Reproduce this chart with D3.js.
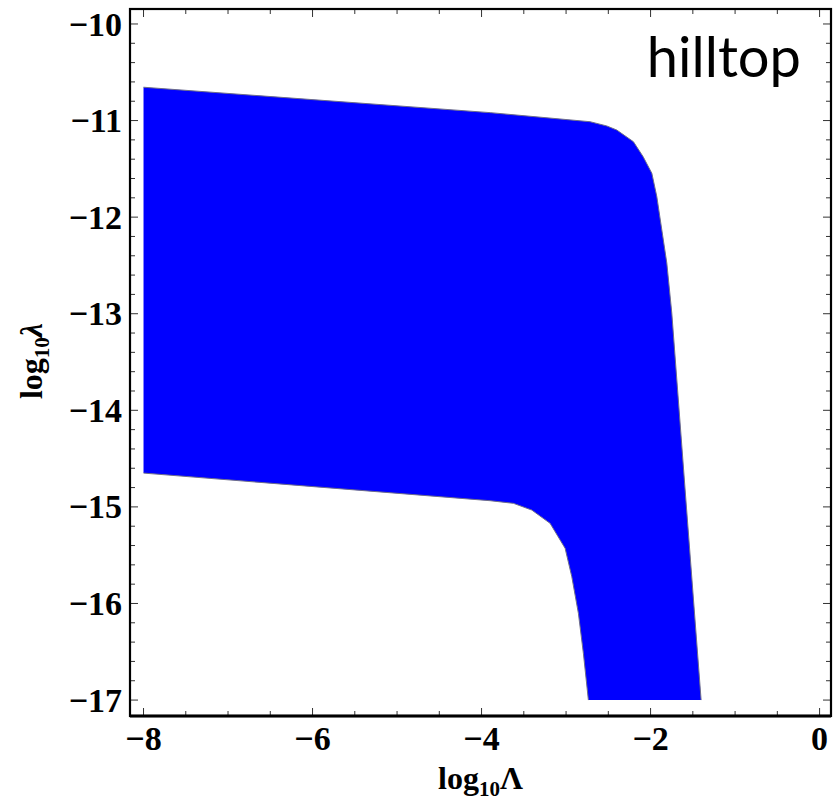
<!DOCTYPE html>
<html>
<head>
<meta charset="utf-8">
<script src="https://cdn.jsdelivr.net/npm/d3@7/dist/d3.min.js"></script>
<style>
  html, body { margin: 0; padding: 0; background: #fff; }
  svg { display: block; }
</style>
</head>
<body>
<script>
// Allowed region boundary for the hilltop model in the (log10 Λ, log10 λ) plane.
// Upper/right boundary, traced from the left edge down to the bottom of the plot.
const upperX = [-8.0, -3.898, -2.716, -2.518, -2.400, -2.203, -2.088, -1.985, -1.926, -1.867, -1.808, -1.749, -1.600, -1.402];
const upperY = [-10.655, -10.918, -11.012, -11.056, -11.098, -11.219, -11.374, -11.546, -11.788, -12.133, -12.475, -12.993, -14.722, -17.0];
// Lower/left boundary, traced from the left edge down to the bottom of the plot.
const lowerX = [-8.0, -3.898, -3.623, -3.405, -3.189, -3.011, -2.932, -2.854, -2.795, -2.736];
const lowerY = [-14.650, -14.936, -14.963, -15.033, -15.170, -15.429, -15.723, -16.102, -16.516, -17.0];

// Axis extents and ticks
const xExtent = [-8.16, 0.135];
const yExtent = [-17.165, -9.845];
const xMajorTicks = [-8, -6, -4, -2, 0];
const yMajorTicks = [-17, -16, -15, -14, -13, -12, -11, -10];
const xMinorStep = 0.5;
const yMinorStep = 0.2;
const panelLabel = "hilltop";

(function draw() {
  const W = 837, H = 802;
  const mLeft = 130, mRight = 831, mTop = 9, mBottom = 716;

  const svg = d3.select("body").append("svg")
    .attr("width", W).attr("height", H);

  const x = d3.scaleLinear().domain(xExtent).range([mLeft, mRight]);
  const y = d3.scaleLinear().domain(yExtent).range([mBottom, mTop]);

  // Filled region: upper boundary, then lower boundary in reverse
  const upperPts = upperX.map((v, i) => [v, upperY[i]]);
  const lowerPts = lowerX.map((v, i) => [v, lowerY[i]]);
  const polygon = upperPts.concat(lowerPts.slice().reverse());

  const line = d3.line().x(d => x(d[0])).y(d => y(d[1]));

  svg.append("path")
    .attr("d", line(polygon) + "Z")
    .attr("fill", "#0000ff")
    .attr("stroke", "none");

  // Thin grey outline along the curved boundaries
  [upperPts, lowerPts].forEach(pts => {
    svg.append("path")
      .attr("d", line(pts))
      .attr("fill", "none")
      .attr("stroke", "#6d6d8a")
      .attr("stroke-width", 1);
  });

  // Ticks on all four sides, pointing inward
  const xMinor = d3.range(-8, 0.0001, xMinorStep).filter(v => !xMajorTicks.some(t => Math.abs(t - v) < 1e-6));
  const yMinor = d3.range(-17, -9.9999, yMinorStep).filter(v => !yMajorTicks.some(t => Math.abs(t - v) < 1e-6));

  const ticks = svg.append("g").attr("stroke", "#333").attr("stroke-width", 1);
  const majLen = 8, minLen = 5;

  function xTick(v, len) {
    ticks.append("line").attr("x1", x(v)).attr("x2", x(v)).attr("y1", mBottom).attr("y2", mBottom - len);
    ticks.append("line").attr("x1", x(v)).attr("x2", x(v)).attr("y1", mTop).attr("y2", mTop + len);
  }
  function yTick(v, len) {
    ticks.append("line").attr("y1", y(v)).attr("y2", y(v)).attr("x1", mLeft).attr("x2", mLeft + len);
    ticks.append("line").attr("y1", y(v)).attr("y2", y(v)).attr("x1", mRight).attr("x2", mRight - len);
  }
  xMajorTicks.forEach(v => xTick(v, majLen));
  xMinor.forEach(v => xTick(v, minLen));
  yMajorTicks.forEach(v => yTick(v, majLen));
  yMinor.forEach(v => yTick(v, minLen));

  // Frame
  svg.append("rect")
    .attr("x", mLeft).attr("y", mTop)
    .attr("width", mRight - mLeft).attr("height", mBottom - mTop)
    .attr("fill", "none").attr("stroke", "#000").attr("stroke-width", 2.2);
  svg.append("line")
    .attr("x1", mLeft).attr("x2", mRight).attr("y1", mBottom).attr("y2", mBottom)
    .attr("stroke", "#000").attr("stroke-width", 3);

  // Tick labels
  const fmt = v => (v < 0 ? "\u2212" : "") + Math.abs(v);
  const labelFont = "'Liberation Serif', 'Times New Roman', serif";

  svg.append("g").selectAll("text").data(xMajorTicks).join("text")
    .attr("x", d => x(d)).attr("y", 750)
    .attr("text-anchor", "middle")
    .attr("font-family", labelFont).attr("font-weight", "bold").attr("font-size", 34)
    .text(fmt);

  svg.append("g").selectAll("text").data(yMajorTicks).join("text")
    .attr("x", 122).attr("y", d => y(d)).attr("dy", "0.34em")
    .attr("text-anchor", "end")
    .attr("font-family", labelFont).attr("font-weight", "bold").attr("font-size", 34)
    .text(fmt);

  // Axis titles
  const xt = svg.append("text")
    .attr("x", (mLeft + mRight) / 2).attr("y", 789)
    .attr("text-anchor", "middle")
    .attr("font-family", labelFont).attr("font-weight", "bold").attr("font-size", 32);
  xt.append("tspan").text("log");
  xt.append("tspan").attr("font-size", 21).attr("dy", 7).text("10");
  xt.append("tspan").attr("dy", -7).text("\u039B");

  const yt = svg.append("text")
    .attr("transform", "translate(42,361) rotate(-90)")
    .attr("text-anchor", "middle")
    .attr("font-family", labelFont).attr("font-weight", "bold").attr("font-size", 32);
  yt.append("tspan").text("log");
  yt.append("tspan").attr("font-size", 21).attr("dy", 7).text("10");
  yt.append("tspan").attr("dy", -7).attr("font-style", "italic").text("\u03BB");

  // Panel label
  svg.append("text")
    .attr("x", 801).attr("y", 77)
    .attr("text-anchor", "end")
    .attr("font-family", "Lato, 'Open Sans', sans-serif")
    .attr("font-size", 56)
    .text(panelLabel);
})();
</script>
</body>
</html>
